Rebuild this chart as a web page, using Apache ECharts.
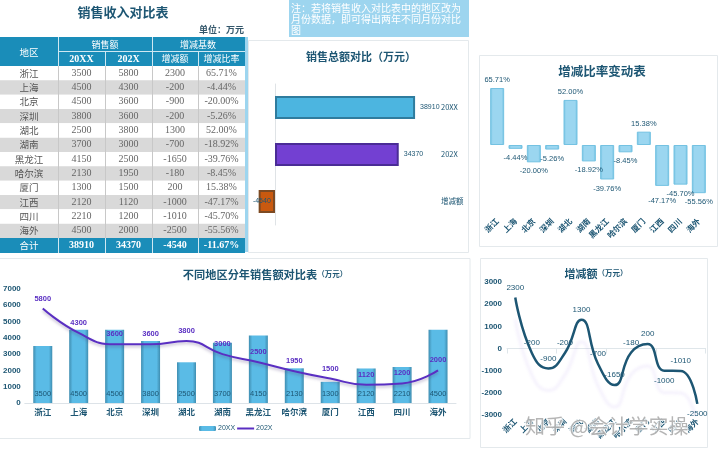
<!DOCTYPE html>
<html>
<head>
<meta charset="utf-8">
<script src="https://cdn.jsdelivr.net/npm/echarts@6/dist/echarts.min.js"></script>
<style>
html,body{margin:0;padding:0;background:#fff;}
#main{width:720px;height:456px;}
</style>
</head>
<body>
<div id="main"></div>
<script>
var regions = ['浙江','上海','北京','深圳','湖北','湖南','黑龙江','哈尔滨','厦门','江西','四川','海外'];
var sales20XX = [3500,4500,4500,3800,2500,3700,4150,2130,1300,2120,2210,4500];
var sales202X = [5800,4300,3600,3600,3800,3000,2500,1950,1500,1120,1200,2000];
var change = [2300,-200,-900,-200,1300,-700,-1650,-180,200,-1000,-1010,-2500];
var changeRate = [65.71,-4.44,-20.00,-5.26,52.00,-18.92,-39.76,-8.45,15.38,-47.17,-45.70,-55.56];
var totalNames = ['20XX','202X','增减额'];
var totalValues = [38910,34370,-4540];
var totalRate = -11.67;

var navy = '#1d5673';
var tableFont = '"Liberation Serif","Noto Sans CJK SC"';
var cjk = '"Noto Sans CJK SC"';
var myChart = echarts.init(document.getElementById('main'));

// table and panels are graphic elements
var g = [];
function box(x,y,w,h,fill,stroke){
    g.push({type:'rect',z:-10,silent:true,shape:{x:x,y:y,width:w,height:h},
        style:{fill:fill,stroke:stroke||null,lineWidth:stroke?1:0}});
}
function txt(s,x,y,color,size,weight,align,font){
    g.push({type:'text',z:-5,silent:true,x:x,y:y,
        style:{text:s,fill:color,fontSize:size,fontWeight:weight||'normal',
            fontFamily:font||tableFont,align:align||'center',verticalAlign:'middle'}});
}
box(248.5,40.5,220,212,'#fff','#e4e9ec');
box(479.5,55.5,238,191,'#fff','#e4e9ec');
box(-1,258.5,471,180,'#fff','#e4e9ec');
box(480.5,258.5,227,189,'#fff','#e4e9ec');
box(245,37,3,215,'#9dd5ef');
box(289,0,180,37,'#9dd5ef');
['注：若将销售收入对比表中的地区改为','月份数据，即可得出两年不同月份对比','图'].forEach(function(s,i){
    txt(s,291,8+i*11,'#fff',10,'normal','left',cjk);
});
txt('销售收入对比表',123,12,navy,13,'bold','center',cjk);
txt('单位：万元',244,30,'#33566a',9,'bold','right',cjk);

var headBlue = '#1a8db9';
box(0,37,245,29,headBlue);
function vline(x,y1,y2,c){ box(x,y1,1,y2-y1,c); }
box(58,51,187,1,'#cfe8f2');
txt('地区',29,52,'#fff',9.5,'normal','center',cjk);
txt('销售额',105,44.5,'#fff',9,'normal','center',cjk);
txt('增减基数',198,44.5,'#fff',9,'normal','center',cjk);
[['20XX',81.5],['202X',128.5]].forEach(function(h){ txt(h[0],h[1],59,'#fff',10,'bold'); });
[['增减额',175],['增减比率',221.5]].forEach(function(h){ txt(h[0],h[1],59,'#fff',9,'normal','center',cjk); });
var rowH = 14.33;
regions.forEach(function(r,i){
    var y = 66+i*rowH;
    box(0,y,245,rowH,i%2?'#d9d9d9':'#fff');
    var mid = y+rowH/2;
    txt(r,29,mid,'#555',9.5,'normal','center',cjk);
    txt(String(sales20XX[i]),81.5,mid,'#666',10);
    txt(String(sales202X[i]),128.5,mid,'#666',10);
    txt(String(change[i]),175,mid,'#666',10);
    txt(changeRate[i].toFixed(2)+'%',221.5,mid,'#666',10);
});
box(0,238,245,15,headBlue);
txt('合计',29,245.5,'#fff',9.5,'normal','center',cjk);
txt(String(totalValues[0]),81.5,245.5,'#fff',10,'bold');
txt(String(totalValues[1]),128.5,245.5,'#fff',10,'bold');
txt(String(totalValues[2]),175,245.5,'#fff',10,'bold');
txt(totalRate.toFixed(2)+'%',221.5,245.5,'#fff',10,'bold');
[58,105,152,198].forEach(function(x){ vline(x,66,238,'#c8c8c8'); vline(x,x===58?37:52,66,'#cfe8f2'); vline(x,238,253,'#cfe8f2'); });
vline(152,37,52,'#cfe8f2');
g.push({type:'text',z:100,silent:true,x:525,y:426,
    style:{text:'知乎 @会计学实操',fill:'rgba(150,150,150,0.7)',stroke:'rgba(255,255,255,0.8)',lineWidth:2,
        fontSize:20,fontFamily:cjk,verticalAlign:'middle'}});

function hGrad(edge,mid){
    return new echarts.graphic.LinearGradient(0,0,1,0,[
        {offset:0,color:edge},{offset:0.18,color:mid},{offset:0.82,color:mid},{offset:1,color:edge}]);
}
var totalColors = [['#4cb5e0','#2f7c9e'],['#7340d2','#4a2c96'],['#c9590f','#7d4a22']];
var axisText = {color:navy,fontSize:8.5,fontWeight:'bold',fontFamily:cjk};
function plain(v){ return String(v); }

option = {
    backgroundColor:'#fff',
    animation:false,
    graphic:g,
    title:[
        {text:'销售总额对比（万元）',left:356,top:46,textAlign:'center',textStyle:{color:navy,fontSize:11,fontWeight:'bold',fontFamily:cjk}},
        {text:'增减比率变动表',left:597,top:60,textAlign:'center',textStyle:{color:navy,fontSize:12.5,fontWeight:'bold',fontFamily:cjk}},
        {text:'{a|不同地区分年销售额对比表}{b|（万元）}',left:260,top:264,textAlign:'center',
            textStyle:{rich:{a:{color:navy,fontSize:11.2,fontWeight:'bold',fontFamily:cjk},b:{color:navy,fontSize:7.5,fontWeight:'bold',fontFamily:cjk}}}},
        {text:'{a|增减额}{b|（万元）}',left:591,top:263,textAlign:'center',
            textStyle:{rich:{a:{color:navy,fontSize:11,fontWeight:'bold',fontFamily:cjk},b:{color:navy,fontSize:7.5,fontWeight:'bold',fontFamily:cjk}}}}
    ],
    legend:{
        data:['20XX',{name:'202X',itemStyle:{opacity:0}}],left:199,top:425,padding:0,itemWidth:17,itemHeight:5,itemGap:1,
        textStyle:{color:navy,fontSize:7,padding:[0,0,0,-3]}
    },
    grid:[
        {left:257,top:84,width:180,height:141},
        {left:488,top:84.3,width:220,height:121.4},
        {left:22,top:289,width:434,height:114},
        {left:507,top:282,width:198.6,height:133}
    ],
    xAxis:[
        {gridIndex:0,type:'value',min:-5000,max:45000,show:false},
        {gridIndex:1,type:'category',data:regions,position:'bottom',
            axisLine:{show:false},axisTick:{show:false},
            axisLabel:Object.assign({},axisText,{interval:0,rotate:45,margin:14,fontSize:8})},
        {gridIndex:2,type:'category',data:regions,
            axisLine:{lineStyle:{color:'#dde3e8'}},axisTick:{show:false},
            axisLabel:Object.assign({},axisText,{interval:0,margin:5})},
        {gridIndex:3,type:'category',data:regions,
            axisLine:{onZero:true,lineStyle:{color:'#dfe6ea'}},axisTick:{show:true,lineStyle:{color:'#dfe6ea'}},
            axisLabel:{show:false}},
        {gridIndex:3,type:'category',data:regions,position:'bottom',
            axisLine:{onZero:false,show:false},axisTick:{show:false},
            axisLabel:Object.assign({},axisText,{interval:0,rotate:45,margin:5,fontSize:8})}
    ],
    yAxis:[
        {gridIndex:0,type:'category',inverse:true,data:totalNames,
            axisLine:{onZero:true,lineStyle:{color:'#dfe3e6'}},axisTick:{show:false},axisLabel:{show:false}},
        {gridIndex:0,type:'category',inverse:true,data:totalNames,position:'right',
            axisLine:{show:false,onZero:false},axisTick:{show:false},
            axisLabel:{color:navy,fontSize:7.5,fontFamily:cjk,margin:4,align:'left'}},
        {gridIndex:1,type:'value',min:-70,max:70,show:false},
        {gridIndex:2,type:'value',min:0,max:7000,interval:1000,splitLine:{show:false},
            axisLine:{show:false},axisTick:{show:false},
            axisLabel:{color:navy,fontSize:8,fontWeight:'bold',margin:4,formatter:plain}},
        {gridIndex:3,type:'value',min:-3000,max:3000,interval:1000,splitLine:{show:false},
            axisLine:{show:false},axisTick:{show:false},
            axisLabel:{color:navy,fontSize:8,fontWeight:'bold',margin:5,formatter:plain}}
    ],
    series:[
        {
            name:'销售总额',type:'bar',xAxisIndex:0,yAxisIndex:0,barWidth:23,
            data:totalValues.map(function(v,i){
                return {
                    value:v,
                    itemStyle:{color:totalColors[i][0],borderColor:totalColors[i][1],borderWidth:2},
                    label:v<0?{position:'inside',offset:[-5,0]}:{position:'right',distance:5}
                };
            }),
            label:{show:true,color:navy,fontSize:7,formatter:function(p){return String(p.value);}}
        },
        {
            name:'增减比率',type:'bar',xAxisIndex:1,yAxisIndex:2,barWidth:14,
            data:changeRate.map(function(v,i){
                return {value:v,label:{position:v<0?'bottom':'top',distance:regions[i]==='江西'?11:(v<0?5:4)}};
            }),
            itemStyle:{color:hGrad('#6cbfe0','#9bd6f0'),borderColor:'#74c2e2',borderWidth:1},
            label:{show:true,color:navy,fontSize:7.5,formatter:function(p){return p.value.toFixed(2)+'%';}}
        },
        {
            name:'20XX',type:'bar',xAxisIndex:2,yAxisIndex:3,barWidth:19,
            data:sales20XX,
            itemStyle:{color:hGrad('#3f8db0','#5abbe6')},
            label:{show:true,position:'insideBottom',distance:5,color:navy,fontSize:7.5,formatter:function(p){return String(p.value);}}
        },
        {
            name:'202X',type:'line',xAxisIndex:2,yAxisIndex:3,smooth:true,symbol:'circle',symbolSize:0.1,
            data:sales202X,
            lineStyle:{color:'#5a2fc2',width:2,shadowColor:'rgba(80,60,120,0.35)',shadowBlur:3,shadowOffsetY:2},
            itemStyle:{color:'#5a2fc2'},
            label:{show:true,position:'top',distance:6,color:'#5a2fc2',fontSize:7.5,fontWeight:'bold',formatter:function(p){return String(p.value);}},
            z:5
        },
        {
            name:'增减额',type:'line',xAxisIndex:3,yAxisIndex:4,smooth:true,symbol:'circle',symbolSize:0.1,
            data:change.map(function(v,i){
                return {value:v,label:{position:(regions[i]==='江西'||regions[i]==='海外')?'bottom':'top'}};
            }),
            lineStyle:{color:navy,width:2.5,shadowColor:'rgba(150,110,230,0.11)',shadowBlur:3,shadowOffsetY:22},
            itemStyle:{color:navy},
            label:{show:true,distance:6,color:navy,fontSize:8,formatter:function(p){return String(p.value);}}
        }
    ]
};

myChart.setOption(option);
</script>
</body>
</html>
